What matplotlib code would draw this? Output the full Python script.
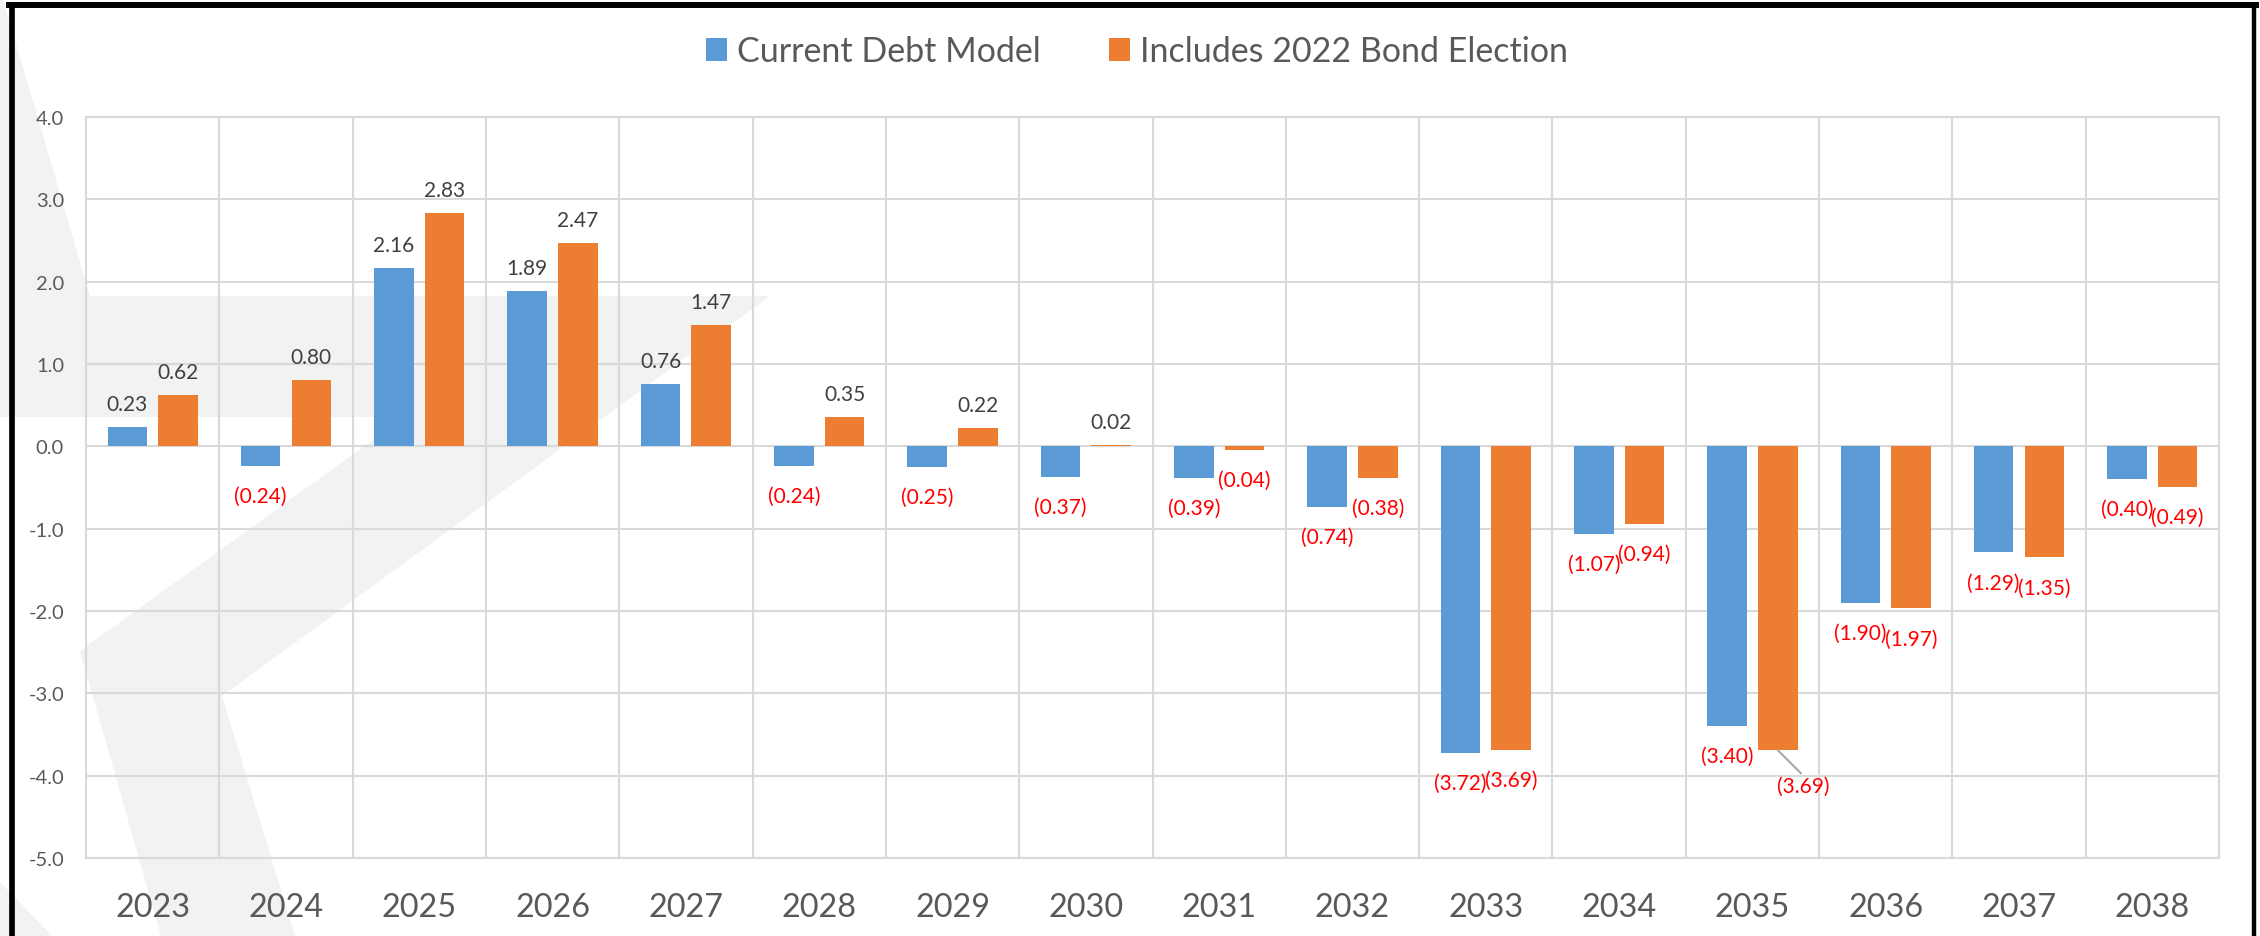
import matplotlib
matplotlib.use("Agg")
import matplotlib.pyplot as plt
from matplotlib.patches import Polygon
from matplotlib.lines import Line2D
import numpy as np

# ---------------- data ----------------
years = ["2023", "2024", "2025", "2026", "2027", "2028", "2029", "2030",
         "2031", "2032", "2033", "2034", "2035", "2036", "2037", "2038"]
current_debt_model = [0.23, -0.24, 2.16, 1.89, 0.76, -0.24, -0.25, -0.37,
                      -0.39, -0.74, -3.72, -1.07, -3.40, -1.90, -1.29, -0.40]
includes_2022_bond = [0.62, 0.80, 2.83, 2.47, 1.47, 0.35, 0.22, 0.02,
                      -0.04, -0.38, -3.69, -0.94, -3.69, -1.97, -1.35, -0.49]
series_names = ["Current Debt Model", "Includes 2022 Bond Election"]
y_ticks = [-5, -4, -3, -2, -1, 0, 1, 2, 3, 4]

# ---------------- style ----------------
BLUE = "#5B9BD5"
ORANGE = "#ED7D31"
GRID = "#D9D9D9"
TICK_C = "#595959"
POS_C = "#404040"
NEG_C = "#FF0000"
WM = "#F2F2F2"

plt.rcParams["font.family"] = ["Lato", "DejaVu Sans"]

W, H = 2260, 937
fig = plt.figure(figsize=(W / 100, H / 100), dpi=100)
fig.patch.set_facecolor("white")

# watermark (figure pixel coords, y from top)
wm_px = [(0, 0), (3, 0), (90, 297), (770, 297), (222, 697), (295, 937),
         (161, 937), (80, 652), (405, 418), (0, 418)]
fig.add_artist(Polygon([(px / W, 1 - py / H) for px, py in wm_px],
                       closed=True, transform=fig.transFigure,
                       facecolor=WM, edgecolor="none", zorder=-5))
tri_px = [(0, 883), (52, 937), (0, 937)]
fig.add_artist(Polygon([(px / W, 1 - py / H) for px, py in tri_px],
                       closed=True, transform=fig.transFigure,
                       facecolor=WM, edgecolor="none", zorder=-5))

left, right, top, bottom = 86, 2219, 117.8, 859
ax = fig.add_axes([left / W, 1 - bottom / H, (right - left) / W, (bottom - top) / H])
ax.set_facecolor("none")

x = np.arange(len(years))
bw = 0.297
off = 0.19
b1 = ax.bar(x - off, current_debt_model, bw, color=BLUE, zorder=3)
b2 = ax.bar(x + off, includes_2022_bond, bw, color=ORANGE, zorder=3)

ax.set_xlim(-0.5, len(years) - 0.5)
ax.set_ylim(min(y_ticks), max(y_ticks))
ax.set_yticks(y_ticks)
ax.set_yticklabels([f"{t:.1f}" for t in y_ticks])
ax.set_xticks(x)
ax.set_xticklabels(years)
ax.set_xticks(np.arange(-0.5, len(years), 1.0), minor=True)
ax.grid(which="minor", axis="x", color=GRID, lw=1.5, zorder=0)
ax.grid(which="major", axis="y", color=GRID, lw=1.5, zorder=0)
ax.grid(which="major", axis="x", visible=False)
ax.set_axisbelow(True)
ax.tick_params(which="both", length=0)
ax.tick_params(axis="x", which="major", pad=24.5, labelsize=23.3, labelcolor=TICK_C)
ax.tick_params(axis="y", which="major", pad=15.8, labelsize=14.5, labelcolor=TICK_C)
for s in ax.spines.values():
    s.set_color(GRID)
    s.set_linewidth(1.5)

px = 72 / 100.0  # px -> pt
special = {(1, 12): (26, -42)}  # label moved with a leader line
for si, (vals, dx_bar) in enumerate([(current_debt_model, -off), (includes_2022_bond, off)]):
    for i, v in enumerate(vals):
        if v >= 0:
            txt, col, dy = f"{v:.2f}", POS_C, 17
        else:
            txt, col, dy = f"({abs(v):.2f})", NEG_C, -36
        dx = 0
        kw = {}
        if (si, i) in special:
            dx, dy = special[(si, i)]
            kw["arrowprops"] = dict(arrowstyle="-", color="#A6A6A6", lw=1.5,
                                    shrinkA=0, shrinkB=0, relpos=(0.5, 1.0))
        ax.annotate(txt, xy=(i + dx_bar, v), xytext=(dx * px, dy * px),
                    textcoords="offset points", ha="center", va="baseline",
                    fontsize=15, color=col, zorder=5, **kw)

fig.legend([b1, b2], series_names, loc="center", bbox_to_anchor=(0.5031, 1 - 52.5 / H),
           ncol=2, frameon=False, fontsize=24.5, handlelength=0.62, handleheight=0.62,
           handletextpad=0.29, columnspacing=2.0, labelcolor=TICK_C,
           bbox_transform=fig.transFigure)

# black frame
lines = [((12.2, 12.2), (6.3, H + 5), 4.1),
         ((9.3, 2256.2), (6.3, 6.3), 4.3),
         ((2254, 2254), (6.3, H + 5), 3.2)]
for xs, ys, lw in lines:
    fig.add_artist(Line2D([xx / W for xx in xs], [1 - yy / H for yy in ys],
                          transform=fig.transFigure, color="black", lw=lw,
                          solid_capstyle="projecting", zorder=10))

fig.savefig("out.png", dpi=100, facecolor="white")
